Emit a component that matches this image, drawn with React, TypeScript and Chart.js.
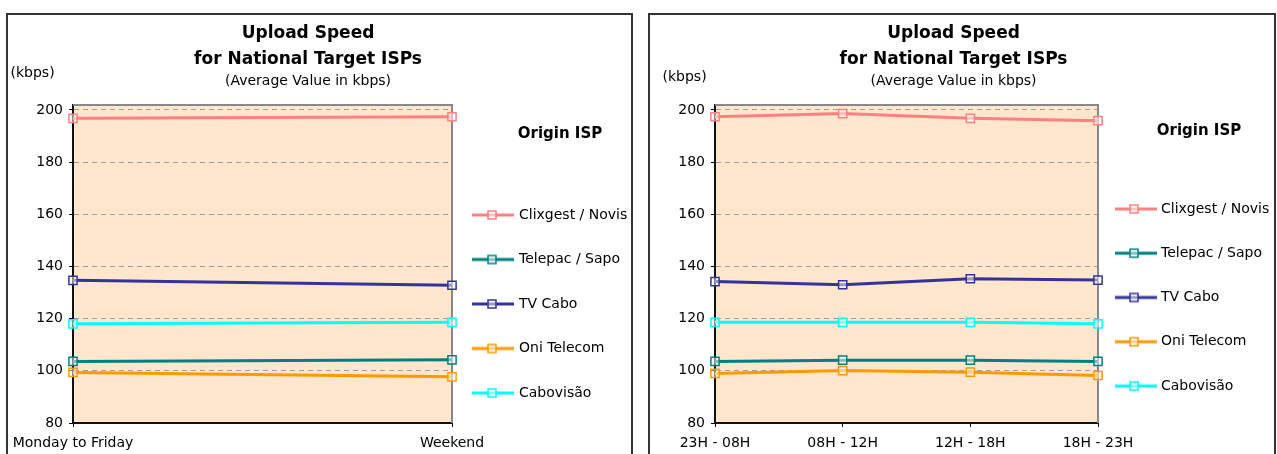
import React, { useEffect, useRef } from 'react';
import { Chart, registerables } from 'chart.js';

Chart.register(...registerables);

// ---------- data ----------
const SERIES_NAMES = ['Clixgest / Novis', 'Telepac / Sapo', 'TV Cabo', 'Oni Telecom', 'Cabovisão'];
const SERIES_COLORS = ['#FF8080', '#008080', '#333399', '#FF9900', '#00FFFF'];

const WEEK_CATEGORIES = ['Monday to Friday', 'Weekend'];
const WEEK_CLIXGEST = [196.8, 197.4];
const WEEK_TELEPAC = [103.6, 104.2];
const WEEK_TVCABO = [134.7, 132.8];
const WEEK_ONI = [99.4, 97.7];
const WEEK_CABOVISAO = [118.0, 118.6];

const HOUR_CATEGORIES = ['23H - 08H', '08H - 12H', '12H - 18H', '18H - 23H'];
const HOUR_CLIXGEST = [197.4, 198.6, 196.8, 195.9];
const HOUR_TELEPAC = [103.6, 104.1, 104.1, 103.6];
const HOUR_TVCABO = [134.2, 133.0, 135.3, 134.8];
const HOUR_ONI = [99.0, 100.1, 99.5, 98.2];
const HOUR_CABOVISAO = [118.6, 118.6, 118.6, 118.0];

const Y_MIN = 80;
const Y_MAX = 201.9;
const Y_STEP = 20;

const TITLE_LINES = ['Upload Speed', 'for National Target ISPs'];
const SUBTITLE = '(Average Value in kbps)';
const UNIT_LABEL = '(kbps)';
const LEGEND_TITLE = 'Origin ISP';

const FONT = "'DejaVu Sans', sans-serif";
const PLOT_BG = '#FFE6CC';

// ---------- helpers ----------
type Geo = {
  boxLeft: number;
  boxWidth: number;
  padRight: number;
  chartRight: number;
  sampleStart: number;
  sampleEnd: number;
  markerX: number;
  textX: number;
  legendTitleCenter: number;
  legendTitleTop: number;
  legendTitleBottom: number;
  legendLineHeight: number;
  unitX: number;
  unitY: number;
};

function legendImage(color: string, width: number, lineFrom: number, lineTo: number, marker: number) {
  const c = document.createElement('canvas');
  c.width = width;
  c.height = 12;
  const ctx = c.getContext('2d')!;
  ctx.strokeStyle = color;
  ctx.lineWidth = 3;
  ctx.beginPath();
  ctx.moveTo(lineFrom, 6);
  ctx.lineTo(lineTo, 6);
  ctx.stroke();
  ctx.fillStyle = 'rgba(255,255,255,0.5)';
  ctx.fillRect(marker - 4, 2, 8, 8);
  ctx.lineWidth = 1.5;
  ctx.strokeRect(marker - 4, 2, 8, 8);
  return c;
}

const plotAreaPlugin = {
  id: 'plotArea',
  beforeDraw(chart: any) {
    const { ctx, chartArea: a } = chart;
    ctx.save();
    ctx.fillStyle = PLOT_BG;
    ctx.fillRect(a.left, a.top, a.right - a.left, a.bottom - a.top);
    ctx.restore();
  },
  beforeDatasetsDraw(chart: any) {
    const { ctx, chartArea: a } = chart;
    ctx.save();
    ctx.strokeStyle = '#888888';
    ctx.lineWidth = 2;
    ctx.beginPath();
    ctx.moveTo(a.left, a.top);
    ctx.lineTo(a.right, a.top);
    ctx.lineTo(a.right, a.bottom);
    ctx.stroke();
    ctx.restore();
  },
};

// widens the legend box after layout so its title is centred where wanted and text is not clipped
const legendSpanPlugin = {
  id: 'legendSpan',
  afterLayout(chart: any, _args: any, opts: any) {
    const l = chart.legend;
    if (!l) return;
    const w = 2 * (opts.center - l.left);
    l.width = w;
    l.right = l.left + w;
  },
};

const unitLabelPlugin = {
  id: 'unitLabel',
  afterDraw(chart: any, _args: any, opts: any) {
    const ctx = chart.ctx;
    ctx.save();
    ctx.font = `14px ${FONT}`;
    ctx.fillStyle = '#000';
    ctx.textAlign = 'left';
    ctx.textBaseline = 'middle';
    ctx.fillText(opts.text, opts.x, opts.y);
    ctx.restore();
  },
};

function buildConfig(categories: string[], series: number[][], g: Geo) {
  const cursor = g.chartRight + 10;
  const bw = g.textX - 7 - cursor;
  const center = cursor + bw / 2;
  const half = Math.ceil(Math.max(g.sampleEnd - center, center - g.sampleStart));
  const left = center - half;
  const images = SERIES_COLORS.map((c) =>
    legendImage(c, half * 2, g.sampleStart - left, g.sampleEnd - left, g.markerX - left)
  );

  const datasets = SERIES_NAMES.map((name, i) => ({
    label: name,
    data: series[i],
    borderColor: SERIES_COLORS[i],
    backgroundColor: SERIES_COLORS[i],
    borderWidth: 3,
    pointStyle: 'rect',
    pointRadius: 5.8,
    pointBorderWidth: 1.5,
    pointBorderColor: SERIES_COLORS[i],
    pointBackgroundColor: 'rgba(255,255,255,0.5)',
    tension: 0,
    fill: false,
  }));

  const innerW = g.boxWidth - 4;

  return {
    type: 'line',
    data: { labels: categories, datasets },
    plugins: [plotAreaPlugin, legendSpanPlugin, unitLabelPlugin],
    options: {
      responsive: false,
      animation: false,
      devicePixelRatio: 1,
      layout: { padding: { left: 0, right: g.padRight, top: 0, bottom: 0 } },
      font: { family: FONT },
      scales: {
        x: {
          type: 'category',
          offset: false,
          grid: { display: true, drawOnChartArea: false, drawTicks: true, tickLength: 4, tickColor: '#000', color: '#000' },
          border: { display: true, color: '#111', width: 2 },
          ticks: { color: '#000', font: { family: FONT, size: 14 }, padding: 8, maxRotation: 0, autoSkip: false },
          afterFit: (s: any) => {
            s.height = 48;
            s.paddingLeft = 0;
            s.paddingRight = 0;
          },
        },
        y: {
          type: 'linear',
          min: Y_MIN,
          max: Y_MAX,
          grid: {
            color: (c: any) => (c.tick && c.tick.value === Y_MIN ? 'rgba(0,0,0,0)' : '#A0A0A0'),
            tickColor: '#000',
            tickLength: 4,
            lineWidth: 1,
          },
          border: { display: true, color: '#111', width: 2, dash: [5, 4] },
          ticks: { stepSize: Y_STEP, includeBounds: false, color: '#000', font: { family: FONT, size: 14 }, padding: 6 },
          afterFit: (s: any) => {
            s.width = 65;
          },
        },
      },
      plugins: {
        tooltip: { enabled: false },
        title: {
          display: true,
          text: TITLE_LINES,
          color: '#000',
          font: { family: FONT, size: 17, weight: 'bold', lineHeight: 26 / 17 },
          padding: { top: 5.5, bottom: 0 },
        },
        subtitle: {
          display: true,
          text: SUBTITLE,
          color: '#000',
          font: { family: FONT, size: 14, lineHeight: 1.2 },
          padding: { top: 0.6, bottom: 15.1 },
        },
        legend: {
          position: 'right',
          align: 'start',
          maxWidth: innerW - g.padRight - g.chartRight,
          title: {
            display: true,
            text: LEGEND_TITLE,
            position: 'center',
            color: '#000',
            font: { family: FONT, size: 15, weight: 'bold', lineHeight: 1.2 },
            padding: { top: g.legendTitleTop, bottom: g.legendTitleBottom },
          },
          labels: {
            usePointStyle: true,
            pointStyleWidth: bw,
            padding: 10,
            color: '#000',
            font: { family: FONT, size: 14, lineHeight: g.legendLineHeight / 14 },
            generateLabels: (chart: any) => {
              const base = (Chart as any).defaults.plugins.legend.labels.generateLabels(chart);
              return base.map((item: any, i: number) => ({ ...item, text: [item.text], pointStyle: images[i] }));
            },
          },
        },
        legendSpan: { center: g.legendTitleCenter },
        unitLabel: { text: UNIT_LABEL, x: g.unitX, y: g.unitY },
      },
    },
  };
}

function ChartBox(props: { categories: string[]; series: number[][]; geo: Geo }) {
  const ref = useRef<HTMLCanvasElement>(null);
  const { geo } = props;
  useEffect(() => {
    const cfg: any = buildConfig(props.categories, props.series, geo);
    const chart = new Chart(ref.current as HTMLCanvasElement, cfg);
    return () => chart.destroy();
  }, []);
  return (
    <div
      style={{
        position: 'absolute',
        left: geo.boxLeft,
        top: 13,
        width: geo.boxWidth,
        height: 460,
        border: '2px solid #333',
        boxSizing: 'border-box',
        background: '#fff',
      }}
    >
      <canvas ref={ref} width={geo.boxWidth - 4} height={456} style={{ display: 'block' }} />
    </div>
  );
}

const LEFT_GEO: Geo = {
  boxLeft: 6,
  boxWidth: 627,
  padRight: 23,
  chartRight: 444,
  sampleStart: 464,
  sampleEnd: 506,
  markerX: 484,
  textX: 511,
  legendTitleCenter: 552,
  legendTitleTop: 111.5,
  legendTitleBottom: 53.5,
  legendLineHeight: 34.5,
  unitX: 2.5,
  unitY: 58,
};

const RIGHT_GEO: Geo = {
  boxLeft: 648,
  boxWidth: 628,
  padRight: 17,
  chartRight: 448,
  sampleStart: 465,
  sampleEnd: 507,
  markerX: 484,
  textX: 511,
  legendTitleCenter: 549,
  legendTitleTop: 108.5,
  legendTitleBottom: 50.5,
  legendLineHeight: 34.25,
  unitX: 12.5,
  unitY: 62,
};

export default function App() {
  return (
    <div
      style={{
        position: 'fixed',
        left: 0,
        top: 0,
        width: 1277,
        height: 454,
        overflow: 'hidden',
        background: '#fff',
      }}
    >
      <ChartBox
        categories={WEEK_CATEGORIES}
        series={[WEEK_CLIXGEST, WEEK_TELEPAC, WEEK_TVCABO, WEEK_ONI, WEEK_CABOVISAO]}
        geo={LEFT_GEO}
      />
      <ChartBox
        categories={HOUR_CATEGORIES}
        series={[HOUR_CLIXGEST, HOUR_TELEPAC, HOUR_TVCABO, HOUR_ONI, HOUR_CABOVISAO]}
        geo={RIGHT_GEO}
      />
    </div>
  );
}
